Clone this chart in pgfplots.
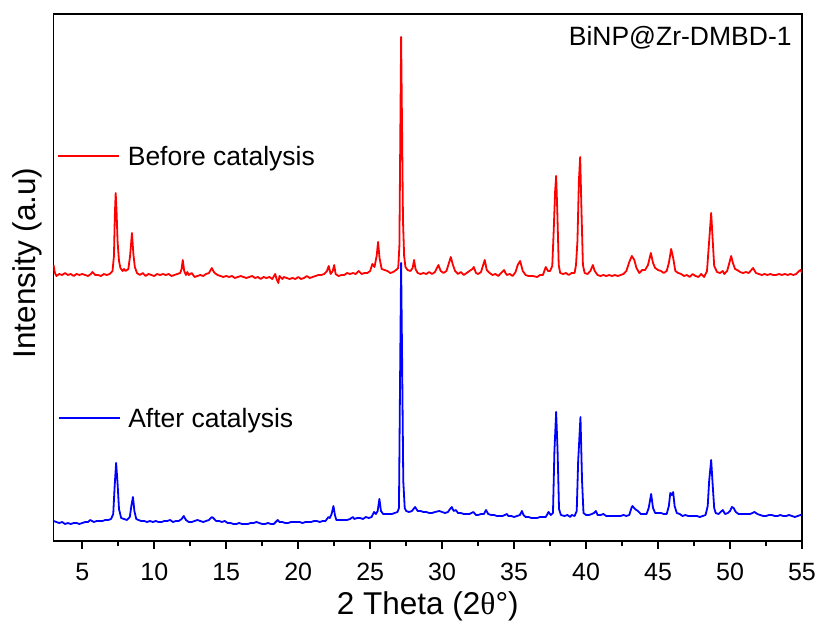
\documentclass[border=0pt]{standalone}
\usepackage{fontspec}
\setmainfont{Liberation Sans}
\newfontfamily\serifgr{Liberation Serif}
\usepackage{pgfplots}
\pgfplotsset{compat=1.18}
\usepackage{pgfplotstable}

\pgfplotstableread{
x y
3.0 276
3.1 268
3.2 265
3.4 267
3.6 266
3.8 268
4.0 266
4.2 267
4.4 265
4.6 267
4.8 266
5.0 267
5.2 266
5.4 265
5.6 267
5.7 269
5.9 266
6.1 266
6.3 265
6.5 267
6.7 266
6.9 267
7.1 270
7.2 285
7.26 325
7.32 348
7.38 330
7.45 300
7.55 280
7.65 273
7.8 270
7.9 272
8.0 270
8.2 272
8.32 285
8.45 308
8.55 287
8.65 274
8.8 268
9.0 266
9.2 268
9.4 265
9.6 267
9.8 266
10.0 265
10.2 267
10.4 266
10.6 267
10.8 266
11.0 267
11.2 265
11.4 266
11.6 267
11.8 268
11.9 272
11.98 281
12.08 270
12.2 266
12.3 269
12.4 266
12.6 268
12.8 264
13.0 265
13.2 266
13.4 265
13.6 267
13.8 268
14.0 273
14.1 270
14.2 268
14.4 266
14.6 265
14.8 264
15.0 265
15.2 264
15.4 265
15.6 263
15.8 264
16.0 265
16.2 264
16.4 263
16.6 264
16.8 265
17.0 263
17.2 264
17.4 262
17.6 264
17.8 263
18.0 264
18.2 262
18.4 267
18.5 262
18.62 258
18.7 265
18.9 262
19.0 264
19.2 263
19.4 262
19.6 263
19.8 262
20.0 264
20.2 262
20.4 263
20.6 265
20.8 263
21.0 264
21.2 265
21.4 266
21.6 266
21.8 267
22.0 270
22.12 275
22.25 267
22.4 270
22.5 276
22.6 267
22.8 265
23.0 266
23.2 266
23.4 268
23.6 267
23.8 268
24.0 267
24.2 270
24.4 267
24.6 268
24.8 268
25.0 270
25.15 277
25.3 274
25.45 285
25.55 299
25.65 283
25.8 272
26.0 271
26.2 270
26.4 268
26.6 269
26.8 271
26.95 273
27.03 295
27.09 400
27.15 504
27.21 420
27.28 320
27.36 285
27.45 274
27.6 271
27.8 270
27.95 273
28.05 281
28.15 272
28.3 268
28.5 267
28.7 268
28.9 267
29.1 269
29.3 267
29.5 269
29.74 276
29.9 270
30.1 268
30.3 270
30.45 277
30.6 284
30.75 276
30.9 270
31.1 267
31.3 269
31.5 266
31.7 268
31.9 270
32.1 272
32.2 274
32.35 268
32.5 267
32.7 269
32.85 276
32.96 281
33.1 271
33.3 268
33.5 266
33.7 267
33.9 265
34.1 268
34.3 271
34.4 268
34.5 266
34.7 267
34.9 265
35.1 269
35.25 276
35.42 280
35.6 270
35.8 266
36.0 265
36.3 265
36.6 264
36.8 266
37.0 266
37.2 274
37.35 270
37.5 270
37.65 275
37.75 310
37.85 350
37.92 365
38.0 330
38.1 276
38.2 268
38.4 267
38.6 268
38.8 266
39.0 268
39.2 268
39.3 276
39.4 300
39.5 360
39.59 384
39.68 330
39.78 276
39.9 268
40.1 267
40.3 270
40.47 276
40.6 270
40.8 266
41.0 265
41.2 266
41.4 265
41.6 266
41.8 265
42.0 266
42.2 265
42.4 266
42.6 267
42.8 270
43.0 279
43.18 285
43.35 281
43.5 273
43.7 268
43.9 271
44.1 271
44.3 276
44.5 288
44.65 278
44.8 273
45.0 271
45.2 270
45.4 268
45.6 270
45.75 278
45.91 292
46.05 283
46.2 270
46.4 268
46.6 267
46.8 265
47.0 266
47.2 264
47.4 267
47.6 265
47.8 264
48.0 267
48.2 264
48.4 270
48.55 300
48.69 328
48.8 300
48.9 275
49.1 269
49.3 268
49.5 270
49.6 267
49.8 270
49.95 278
50.08 285
50.2 278
50.35 272
50.5 271
50.7 269
50.9 268
51.1 269
51.3 268
51.6 273
51.8 268
52.0 267
52.2 266
52.4 267
52.6 266
52.8 267
53.0 266
53.2 266
53.4 267
53.6 266
53.8 267
54.0 266
54.2 267
54.4 266
54.6 267
54.8 270
54.9 271
55.0 268
}\before

\pgfplotstableread{
x y
3.0 20
3.2 19
3.4 18
3.6 19
3.8 17
4.0 18
4.2 17
4.4 18
4.6 18
4.8 17
5.0 18
5.2 19
5.4 19
5.55 21
5.8 19
6.0 20
6.2 20
6.4 20
6.6 21
6.8 21
7.0 22
7.15 27
7.25 55
7.35 78
7.45 58
7.55 32
7.7 23
7.9 22
8.1 21
8.3 24
8.42 36
8.52 44
8.62 30
8.75 22
8.9 21
9.1 20
9.3 20
9.5 19
9.7 20
9.9 19
10.1 20
10.3 19
10.5 19
10.7 20
10.9 20
11.1 21
11.3 19
11.5 20
11.7 20
11.9 22
12.05 25
12.2 21
12.4 19
12.6 19
12.8 20
13.0 21
13.2 20
13.4 19
13.6 20
13.8 21
14.0 24
14.1 23
14.3 20
14.5 20
14.7 19
14.9 20
15.1 18
15.3 18
15.5 17
15.7 17
15.9 18
16.1 17
16.3 17
16.5 17
16.7 18
16.9 18
17.1 19
17.3 18
17.5 17
17.7 17
17.9 18
18.1 17
18.3 17
18.58 21
18.7 19
18.9 19
19.1 18
19.3 18
19.5 19
19.7 19
19.9 19
20.1 19
20.3 18
20.5 19
20.7 19
20.9 19
21.1 20
21.3 20
21.5 19
21.7 20
21.9 20
22.1 24
22.2 23
22.32 27
22.45 35
22.55 26
22.65 21
22.8 21
23.0 21
23.2 21
23.4 21
23.6 22
23.8 24
23.9 22
24.1 23
24.3 23
24.5 22
24.7 24
24.9 23
25.1 24
25.27 29
25.4 27
25.52 30
25.64 42
25.75 30
25.9 27
26.1 27
26.3 27
26.5 27
26.7 28
26.9 29
27.0 33
27.07 150
27.15 278
27.22 180
27.3 60
27.4 33
27.5 30
27.7 29
27.9 30
28.12 34
28.3 30
28.5 30
28.7 29
28.9 29
29.1 28
29.3 28
29.5 29
29.8 30
30.0 29
30.2 28
30.4 29
30.55 32
30.67 34
30.8 30
30.95 31
31.1 28
31.3 28
31.5 27
31.7 27
31.9 27
32.17 29
32.35 26
32.5 26
32.7 27
32.9 27
33.05 31
33.2 27
33.4 26
33.6 26
33.8 25
34.0 25
34.2 25
34.5 27
34.6 25
34.8 25
35.0 24
35.2 25
35.4 26
35.54 30
35.65 26
35.8 24
36.0 24
36.2 23
36.4 23
36.6 23
36.8 24
37.0 24
37.2 24
37.39 29
37.55 26
37.7 28
37.8 90
37.92 129
38.02 90
38.12 32
38.25 26
38.5 25
38.7 26
38.9 24
39.0 26
39.2 25
39.35 30
39.45 80
39.61 124
39.72 60
39.82 28
40.0 26
40.2 26
40.4 27
40.55 28
40.68 30
40.8 26
41.0 26
41.2 27
41.4 25
41.6 25
41.8 25
42.0 25
42.2 25
42.4 25
42.6 26
42.8 25
43.0 26
43.15 33
43.22 35
43.4 32
43.6 30
43.8 27
44.0 27
44.2 27
44.35 33
44.52 47
44.65 33
44.8 28
45.0 28
45.2 28
45.4 27
45.6 27
45.75 35
45.85 48
45.95 46
46.05 49
46.15 35
46.3 28
46.5 27
46.7 25
46.9 26
47.1 25
47.3 25
47.5 25
47.7 25
47.9 24
48.1 25
48.3 26
48.45 35
48.55 60
48.69 81
48.8 55
48.9 33
49.0 28
49.2 27
49.5 31
49.65 27
49.85 28
50.0 30
50.13 34
50.25 33
50.4 29
50.6 27
50.8 27
51.0 27
51.2 27
51.4 27
51.7 29
51.9 27
52.1 26
52.3 25
52.5 25
52.7 26
52.9 26
53.1 25
53.3 25
53.5 26
53.7 25
53.9 25
54.1 26
54.3 25
54.5 24
54.7 25
54.9 26
55.0 27
}\after

\begin{document}
\begin{tikzpicture}
\path[use as bounding box] (-53.5bp,-85bp) rectangle (765.5bp,541bp);
\begin{axis}[
  at={(0,0)}, anchor=south west,
  scale only axis, width=748.5bp, height=527bp,
  xmin=3, xmax=55, ymin=0, ymax=527,
  axis line style={line width=1.6bp},
  ytick=\empty,
  xtick={5,10,...,55},
  minor xtick={7.5,12.5,...,52.5},
  xtick pos=bottom, tick align=outside,
  major tick length=8bp, minor tick length=5bp,
  every tick/.style={black, line width=1.6bp},
  /pgf/number format/assume math mode=true,
  ticklabel style={font=\fontsize{25bp}{30bp}\selectfont},
  xticklabel style={inner sep=0pt, anchor=north, yshift=-14bp},
  xlabel={2 Theta (2{\serifgr θ}°)},
  ylabel={Intensity (a.u)},
  label style={font=\fontsize{31.5bp}{36bp}\selectfont},
  xlabel style={at={(axis description cs:0.5,-0.1404)}, anchor=base, inner sep=0pt},
  ylabel style={at={(axis description cs:-0.0234,0.5275)}, anchor=base, inner sep=0pt},
  clip=true,
]
\addplot[red, line width=1.8bp, line join=round] table[x=x,y=y]{\before};
\addplot[blue, line width=1.8bp, line join=round] table[x=x,y=y]{\after};
\draw[red, line width=1.8bp] (axis cs:3.31,385.3) -- (axis cs:7.55,385.3);
\node[anchor=base west, inner sep=0pt, font=\fontsize{26.5bp}{32bp}\selectfont] at (axis cs:8.15,375.3) {Before catalysis};
\draw[blue, line width=1.8bp] (axis cs:3.38,123) -- (axis cs:7.62,123);
\node[anchor=base west, inner sep=0pt, font=\fontsize{26.5bp}{32bp}\selectfont] at (axis cs:8.18,113.3) {After catalysis};
\node[anchor=base east, inner sep=0pt, font=\fontsize{26.5bp}{32bp}\selectfont] at (axis cs:54.29,495) {BiNP@Zr-DMBD-1};
\end{axis}
\end{tikzpicture}
\end{document}
